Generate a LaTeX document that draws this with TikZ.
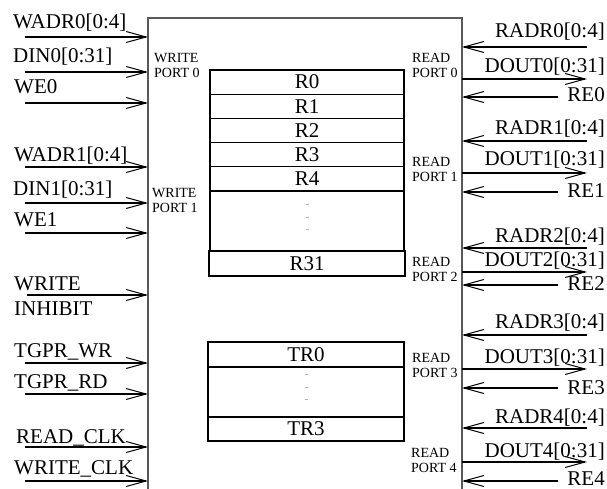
\documentclass[tikz,border=0pt]{standalone}
\usepackage{fontspec}
\setmainfont{Liberation Serif}
\usetikzlibrary{positioning,arrows.meta}
\definecolor{edge}{gray}{0.35}
\definecolor{elp}{gray}{0.7}
\newcommand{\sigsize}{\fontsize{21pt}{23pt}\selectfont}
\newcommand{\portsize}{\fontsize{14pt}{15pt}\selectfont}
\tikzset{
  reg/.style={draw, line width=1.3pt, outer sep=0pt, minimum width=194pt, minimum height=24.2pt, inner sep=0pt, font=\sigsize},
  sigl/.style={anchor=base west, inner sep=0pt, font=\sigsize},
  sigr/.style={anchor=base east, inner sep=0pt, font=\sigsize},
  prt/.style={anchor=west, align=left, inner sep=0pt, font=\portsize},
  tip/.style={-{Straight Barb[length=20pt, width=11pt, line width=1pt]}},
  bus/.style={tip, line width=2.8pt},
  wire/.style={tip, line width=1.2pt},
  dotm/.style={draw=elp, line width=0.6pt}}

\begin{document}
\begin{tikzpicture}[x=1pt, y=-1pt, node distance=0pt]
\useasboundingbox (0,0) rectangle (607,489);
% chip outline, open at the bottom
\coordinate (cw) at (148,18);
\coordinate (ce) at (462,18);
\draw[edge, line width=1.3pt] (148,489) -- (cw) -- (ce) -- (462,489);
% register file
\node[reg] (r0) at (307,82.1) {R0};
\node[reg, below=of r0] (r1) {R1};
\node[reg, below=of r1] (r2) {R2};
\node[reg, below=of r2] (r3) {R3};
\node[reg, below=of r3] (r4) {R4};
\node[reg, below=of r4, minimum height=60pt] (rgap) {};
\node[reg, below=of rgap, minimum width=196pt, minimum height=25pt] (r31) {R31};
\draw[dotm] ([xshift=-1.5pt, yshift=16.5pt]rgap.center) -- ++(3,0);
\draw[dotm] ([xshift=-1.5pt, yshift=4pt]rgap.center) -- ++(3,0);
\draw[dotm] ([xshift=-1.5pt, yshift=-8.5pt]rgap.center) -- ++(3,0);
% temporary registers
\node[reg, minimum width=196pt, minimum height=25pt] (tr0) at (306,354.5) {TR0};
\node[reg, below=of tr0, minimum width=196pt, minimum height=50pt] (trgap) {};
\node[reg, below=of trgap, minimum width=196pt, minimum height=24pt] (tr3) {TR3};
\draw[dotm] ([xshift=-1.5pt, yshift=17.5pt]trgap.center) -- ++(3,0);
\draw[dotm] ([xshift=-1.5pt, yshift=5pt]trgap.center) -- ++(3,0);
\draw[dotm] ([xshift=-1.5pt, yshift=-7.5pt]trgap.center) -- ++(3,0);
% port names
\node[prt] (wp0) at (154,65) {WRITE\\PORT 0};
\node[prt] (wp1) at (152,200) {WRITE\\PORT 1};
\node[prt] (rp0) at (412,65) {READ\\PORT 0};
\node[prt] (rp1) at (412,169) {READ\\PORT 1};
\node[prt] (rp2) at (412,269) {READ\\PORT 2};
\node[prt] (rp3) at (412,365) {READ\\PORT 3};
\node[prt] (rp4) at (411,460) {READ\\PORT 4};
% inputs on the left
\node[sigl] (wadr0) at (13,29) {WADR0[0:4]};
\coordinate (wadr0s) at (25,37);
\draw[bus] (wadr0s) -- (wadr0s -| cw);
\node[sigl] (din0) at (13,63) {DIN0[0:31]};
\coordinate (din0s) at (25,72);
\draw[bus] (din0s) -- (din0s -| cw);
\node[sigl] (we0) at (14,94) {WE0};
\coordinate (we0s) at (25,103);
\draw[wire] (we0s) -- (we0s -| cw);
\node[sigl] (wadr1) at (14,161) {WADR1[0:4]};
\coordinate (wadr1s) at (25,167);
\draw[bus] (wadr1s) -- (wadr1s -| cw);
\node[sigl] (din1) at (13,195) {DIN1[0:31]};
\coordinate (din1s) at (25,203);
\draw[bus] (din1s) -- (din1s -| cw);
\node[sigl] (we1) at (14,226) {WE1};
\coordinate (we1s) at (25,233);
\draw[wire] (we1s) -- (we1s -| cw);
\node[sigl] (wrt) at (14,290) {WRITE};
\node[sigl] (inh) at (14,315) {INHIBIT};
\coordinate (inhs) at (27,295);
\draw[wire] (inhs) -- (inhs -| cw);
\node[sigl] (tgwr) at (14,357) {TGPR\_WR};
\coordinate (tgwrs) at (25,363);
\draw[wire] (tgwrs) -- (tgwrs -| cw);
\node[sigl] (tgrd) at (14,388) {TGPR\_RD};
\coordinate (tgrds) at (25,394);
\draw[wire] (tgrds) -- (tgrds -| cw);
\node[sigl] (rclk) at (16,443) {READ\_CLK};
\coordinate (rclks) at (25,447);
\draw[wire] (rclks) -- (rclks -| cw);
\node[sigl] (wclk) at (14,474) {WRITE\_CLK};
\coordinate (wclks) at (25,481);
\draw[wire] (wclks) -- (wclks -| cw);
% read ports on the right
\node[sigr] (radr0) at (605,38) {RADR0[0:4]};
\coordinate (radr0s) at (587,47);
\draw[bus] (radr0s) -- (radr0s -| ce);
\node[sigr] (dout0) at (605,73) {DOUT0[0:31]};
\coordinate (dout0s) at (587,79);
\draw[bus] (dout0s -| ce) -- (dout0s);
\node[sigr] (re0) at (605,102) {RE0};
\coordinate (re0s) at (558,97);
\draw[wire] (re0s) -- (re0s -| ce);
\node[sigr] (radr1) at (605,135) {RADR1[0:4]};
\coordinate (radr1s) at (587,141);
\draw[bus] (radr1s) -- (radr1s -| ce);
\node[sigr] (dout1) at (605,166) {DOUT1[0:31]};
\coordinate (dout1s) at (587,173);
\draw[bus] (dout1s -| ce) -- (dout1s);
\node[sigr] (re1) at (605,197) {RE1};
\coordinate (re1s) at (558,192);
\draw[wire] (re1s) -- (re1s -| ce);
\node[sigr] (radr2) at (605,242) {RADR2[0:4]};
\coordinate (radr2s) at (587,248);
\draw[bus] (radr2s) -- (radr2s -| ce);
\node[sigr] (dout2) at (605,266) {DOUT2[0:31]};
\coordinate (dout2s) at (587,272);
\draw[bus] (dout2s -| ce) -- (dout2s);
\node[sigr] (re2) at (605,290) {RE2};
\coordinate (re2s) at (558,285);
\draw[wire] (re2s) -- (re2s -| ce);
\node[sigr] (radr3) at (605,328) {RADR3[0:4]};
\coordinate (radr3s) at (587,335);
\draw[bus] (radr3s) -- (radr3s -| ce);
\node[sigr] (dout3) at (605,363) {DOUT3[0:31]};
\coordinate (dout3s) at (587,369);
\draw[bus] (dout3s -| ce) -- (dout3s);
\node[sigr] (re3) at (605,394) {RE3};
\coordinate (re3s) at (558,388);
\draw[wire] (re3s) -- (re3s -| ce);
\node[sigr] (radr4) at (605,423) {RADR4[0:4]};
\coordinate (radr4s) at (587,428);
\draw[bus] (radr4s) -- (radr4s -| ce);
\node[sigr] (dout4) at (605,457) {DOUT4[0:31]};
\coordinate (dout4s) at (587,462);
\draw[bus] (dout4s -| ce) -- (dout4s);
\node[sigr] (re4) at (605,485) {RE4};
\coordinate (re4s) at (558,481);
\draw[wire] (re4s) -- (re4s -| ce);
\end{tikzpicture}
\end{document}
